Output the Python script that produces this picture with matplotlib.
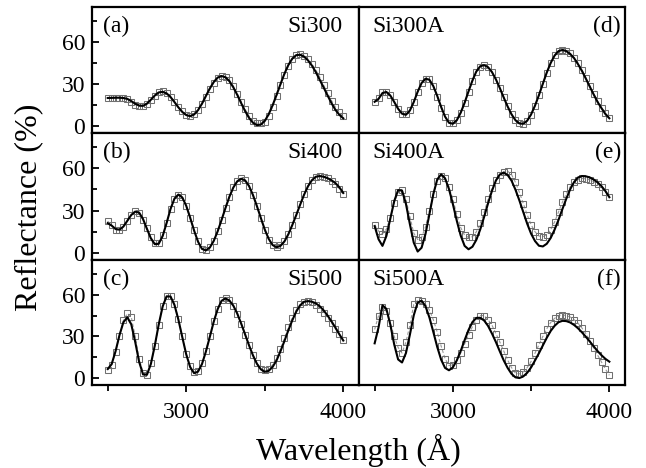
import numpy as np
import matplotlib
matplotlib.use("Agg")
import matplotlib.pyplot as plt
from matplotlib.ticker import FixedLocator, NullFormatter

plt.rcParams['font.family'] = ['Liberation Serif', 'DejaVu Serif']

# wavelength grid (Angstrom)
wl = list(range(2500, 4001, 25))

# fitted reflectance (%)
fit_a = [20.0, 20.1, 20.2, 20.2, 20.0, 19.4, 17.8, 15.9, 14.6, 14.4, 16.0, 18.8, 21.8, 24.0, 24.4,
         23.3, 20.7, 17.1, 13.3, 10.0, 7.8, 7.0, 8.2, 11.3, 15.9, 21.4, 26.8, 31.4, 34.6, 35.7,
         34.8, 32.0, 27.6, 22.2, 16.3, 10.6, 5.8, 2.3, 0.6, 1.0, 3.6, 8.4, 14.8, 22.2, 29.9,
         37.3, 43.5, 48.1, 50.6, 50.9, 49.6, 46.9, 43.2, 38.5, 33.0, 27.5, 21.8, 16.3, 11.5, 8.0, 5.5]
fit_b = [21.1, 19.4, 17.0, 16.5, 18.7, 22.8, 26.9, 29.3, 28.6, 24.0, 17.0, 10.3, 6.2, 6.5, 12.0,
         21.2, 31.2, 38.5, 41.4, 39.3, 33.4, 25.0, 15.9, 8.0, 2.9, 1.8, 3.8, 8.5, 15.3, 23.4,
         31.9, 39.9, 46.4, 50.8, 52.6, 51.4, 47.4, 41.0, 33.2, 24.8, 16.6, 10.0, 5.6, 4.0, 5.0,
         8.1, 13.2, 19.7, 26.7, 34.1, 41.2, 47.2, 51.5, 54.0, 54.5, 54.0, 53.0, 51.5, 49.5, 46.5, 42.5]
fit_c = [6.5, 10.0, 19.3, 30.9, 40.2, 43.7, 38.7, 26.1, 11.7, 2.6, 2.4, 10.2, 23.5, 38.7, 51.6,
         58.8, 58.7, 52.7, 42.1, 29.4, 17.0, 7.9, 3.5, 4.6, 10.0, 19.0, 29.6, 40.5, 49.6, 55.6,
         57.3, 55.8, 52.1, 46.4, 39.2, 31.4, 23.5, 16.3, 10.3, 6.3, 4.5, 5.2, 8.0, 12.7, 19.3,
         26.6, 34.3, 41.5, 47.8, 52.3, 54.9, 55.4, 55.0, 53.8, 51.7, 48.7, 45.0, 40.8, 36.3, 31.5, 27.0]
fit_d = [17.3, 19.4, 23.5, 24.3, 21.8, 17.2, 12.3, 8.8, 8.0, 11.0, 17.1, 24.5, 30.7, 33.8, 33.0,
         28.5, 21.5, 13.6, 6.7, 2.3, 1.6, 4.1, 9.5, 16.6, 24.8, 32.5, 39.0, 42.7, 43.5, 42.0,
         38.5, 33.3, 27.1, 20.3, 13.9, 8.3, 4.1, 1.8, 1.6, 3.8, 8.3, 14.6, 22.1, 30.2, 38.2,
         45.0, 50.3, 53.5, 54.3, 53.5, 51.4, 48.4, 44.1, 39.3, 33.8, 28.1, 22.5, 17.1, 12.7, 8.5, 5.5]
fit_e = [19.0, 9.7, 5.0, 12.0, 24.2, 36.7, 44.5, 44.2, 34.8, 20.5, 7.3, 1.0, 3.7, 13.5, 27.4,
         41.7, 52.1, 55.7, 52.9, 45.3, 34.6, 22.8, 12.3, 5.0, 2.6, 4.4, 9.3, 16.7, 25.7, 35.2,
         44.1, 51.3, 55.6, 56.9, 55.2, 51.2, 44.8, 37.2, 28.9, 20.7, 13.6, 8.4, 5.1, 4.6, 6.5,
         10.6, 16.5, 23.4, 31.1, 38.5, 45.2, 50.3, 53.5, 54.5, 54.3, 53.5, 52.0, 50.0, 47.3, 43.8, 39.5]
fit_f = [25.0, 36.5, 52.4, 49.8, 38.6, 24.2, 13.4, 11.2, 18.0, 31.1, 45.2, 54.4, 55.7, 51.7, 43.6,
         33.2, 22.4, 13.2, 7.3, 5.6, 7.7, 12.7, 19.5, 27.3, 34.6, 40.3, 43.3, 43.4, 41.4, 37.5,
         32.0, 25.9, 19.2, 12.7, 7.3, 3.0, 0.5, 0.0, 1.2, 3.8, 7.7, 12.7, 17.9, 23.5, 29.0,
         33.9, 37.6, 40.2, 41.2, 41.0, 40.0, 38.2, 35.8, 32.9, 29.7, 26.3, 22.8, 19.4, 16.4, 13.8, 11.8]

# measured reflectance (%)
data_a = [20.0, 20.0, 20.3, 20.3, 20.0, 19.0, 17.3, 15.3, 14.0, 14.0, 15.6, 18.5, 21.5, 24.0, 24.8,
          23.6, 20.9, 17.4, 13.6, 10.5, 8.2, 7.5, 8.6, 11.5, 15.5, 20.8, 26.2, 30.8, 34.0, 35.5,
          35.3, 32.6, 28.5, 23.2, 17.5, 12.0, 7.0, 3.6, 2.0, 1.8, 3.2, 7.5, 13.8, 21.2, 29.0,
          36.5, 43.0, 47.8, 50.5, 51.2, 50.2, 47.8, 44.5, 40.0, 35.0, 29.2, 23.5, 18.2, 13.5, 9.8, 7.2]
data_b = [22.5, 19.5, 16.5, 16.0, 18.5, 22.5, 27.0, 29.5, 28.0, 23.5, 17.5, 11.0, 7.0, 7.0, 12.5,
          21.5, 31.0, 38.0, 41.0, 39.5, 33.0, 24.5, 16.0, 8.5, 3.0, 2.2, 4.0, 8.5, 15.5, 23.5,
          32.0, 40.0, 46.5, 51.0, 52.8, 51.5, 47.5, 41.0, 33.0, 24.5, 16.0, 9.5, 5.5, 4.5, 5.5,
          8.5, 13.5, 20.0, 27.0, 34.5, 41.5, 47.5, 51.5, 54.0, 54.5, 54.0, 53.0, 51.0, 49.0, 45.5, 41.5]
data_c = [6.0, 9.5, 19.0, 30.5, 41.5, 46.5, 44.0, 30.0, 14.0, 4.0, 2.5, 10.5, 23.0, 38.0, 52.0,
          59.0, 59.0, 53.0, 42.5, 30.0, 17.5, 8.5, 4.5, 5.0, 10.5, 19.5, 30.5, 41.0, 50.0, 56.0,
          57.5, 56.0, 52.0, 46.0, 39.0, 31.0, 23.5, 16.5, 10.5, 6.5, 5.5, 6.5, 9.5, 14.5, 21.0,
          28.5, 36.5, 43.5, 49.0, 53.0, 55.0, 55.5, 54.5, 52.5, 50.0, 47.0, 43.5, 39.5, 35.5, 31.5, 27.5]
data_d = [17.5, 20.0, 24.0, 24.5, 22.0, 17.0, 12.0, 8.8, 8.5, 11.5, 17.5, 24.5, 30.5, 33.5, 33.5,
          28.5, 21.0, 13.0, 6.5, 2.5, 1.8, 4.5, 9.5, 16.5, 24.5, 32.0, 38.5, 42.5, 43.8, 42.0,
          38.5, 33.0, 27.0, 20.5, 14.0, 8.5, 4.5, 2.2, 1.5, 3.8, 8.0, 14.5, 22.0, 30.0, 38.0,
          45.0, 50.5, 53.5, 54.5, 53.8, 52.0, 48.8, 45.0, 40.0, 34.5, 28.8, 23.0, 17.8, 13.0, 9.2, 6.0]
data_e = [20.0, 15.5, 13.5, 17.0, 25.0, 35.5, 43.0, 44.5, 38.0, 26.0, 14.0, 9.5, 11.0, 18.5, 30.0,
          42.0, 51.0, 54.5, 53.0, 47.0, 38.0, 27.5, 18.0, 12.5, 11.0, 11.5, 15.0, 21.0, 29.0, 38.0,
          46.0, 52.0, 55.5, 57.5, 58.0, 55.5, 50.0, 43.0, 35.0, 27.0, 20.0, 15.0, 12.0, 11.5, 13.0,
          16.5, 22.0, 29.0, 36.0, 42.0, 47.0, 50.0, 52.0, 52.8, 52.5, 51.8, 50.5, 49.0, 46.5, 43.5, 39.5]
data_f = [35.0, 45.0, 51.5, 48.0, 40.0, 30.0, 22.0, 18.0, 26.0, 38.0, 53.0, 56.0, 55.5, 53.0, 49.0,
          42.0, 33.0, 23.0, 14.0, 9.0, 9.5, 13.0, 18.0, 24.5, 31.0, 37.0, 42.0, 45.0, 45.0, 42.0,
          38.0, 32.0, 26.0, 19.5, 13.0, 7.5, 3.5, 3.0, 4.5, 7.5, 12.0, 18.0, 24.0, 30.0, 35.5,
          40.0, 43.0, 45.0, 45.5, 45.0, 44.0, 42.0, 39.5, 36.0, 32.0, 27.0, 21.5, 16.5, 11.5, 6.5, 2.0]

panel_tags = ["(a)", "(b)", "(c)", "(d)", "(e)", "(f)"]
sample_names = ["Si300", "Si400", "Si500", "Si300A", "Si400A", "Si500A"]
fits = [fit_a, fit_b, fit_c, fit_d, fit_e, fit_f]
datas = [data_a, data_b, data_c, data_d, data_e, data_f]

yticks_major = [0, 30, 60]
yticks_minor = [15, 45, 75]
xticks_major = [3000, 4000]
xticks_minor = [2500, 3500]

W, H = 646, 468
fig = plt.figure(figsize=(W / 100, H / 100), dpi=100)

cols = [(92, 359), (359, 625)]
rows = [(7, 133), (133, 260), (260, 385)]

for ci in range(2):
    for ri in range(3):
        idx = ci * 3 + ri
        x0, x1 = cols[ci]
        y0, y1 = rows[ri]
        ax = fig.add_axes([x0 / W, 1 - y1 / H, (x1 - x0) / W, (y1 - y0) / H])
        ax.plot(wl, datas[idx], linestyle=(0, (3, 2)), color='#9a9a9a', lw=0.8,
                marker='s', ms=4.8, mfc='none', mec='#707070', mew=0.75, zorder=2)
        ax.plot(wl, fits[idx], color='black', lw=1.5, zorder=3)
        ax.set_xlim(2400, 4100)
        ax.set_ylim(-5, 85)
        for s in ax.spines.values():
            s.set_linewidth(1.6)
        if ci == 0:
            ax.yaxis.set_major_locator(FixedLocator(yticks_major))
            ax.yaxis.set_minor_locator(FixedLocator(yticks_minor))
            ax.tick_params(axis='y', which='major', direction='in', length=5, width=1.3,
                           labelsize=17, pad=5)
            ax.tick_params(axis='y', which='minor', direction='in', length=3.5, width=1.3)
        else:
            ax.set_yticks([])
        if ri == 2:
            ax.xaxis.set_major_locator(FixedLocator(xticks_major))
            ax.xaxis.set_minor_locator(FixedLocator(xticks_minor))
            ax.xaxis.set_minor_formatter(NullFormatter())
            ax.tick_params(axis='x', which='major', direction='out', length=5, width=1.3,
                           labelsize=17, pad=7)
            ax.tick_params(axis='x', which='minor', direction='out', length=4.5, width=1.3)
        else:
            ax.set_xticks([])
        fs = 17
        if ci == 0:
            ax.text(0.04, 0.93, panel_tags[idx], transform=ax.transAxes, fontsize=fs,
                    ha='left', va='top')
            ax.text(0.94, 0.93, sample_names[idx], transform=ax.transAxes, fontsize=fs,
                    ha='right', va='top')
        else:
            ax.text(0.05, 0.93, sample_names[idx], transform=ax.transAxes, fontsize=fs,
                    ha='left', va='top')
            ax.text(0.985, 0.93, panel_tags[idx], transform=ax.transAxes, fontsize=fs,
                    ha='right', va='top')

fig.text(29 / W, 1 - 207 / H, "Reflectance (%)", rotation=90, fontsize=23,
         ha='center', va='center')
fig.text(358 / W, (H - 460) / H, "Wavelength (Å)", fontsize=23, ha='center', va='baseline')

fig.savefig("out.png", dpi=100)
